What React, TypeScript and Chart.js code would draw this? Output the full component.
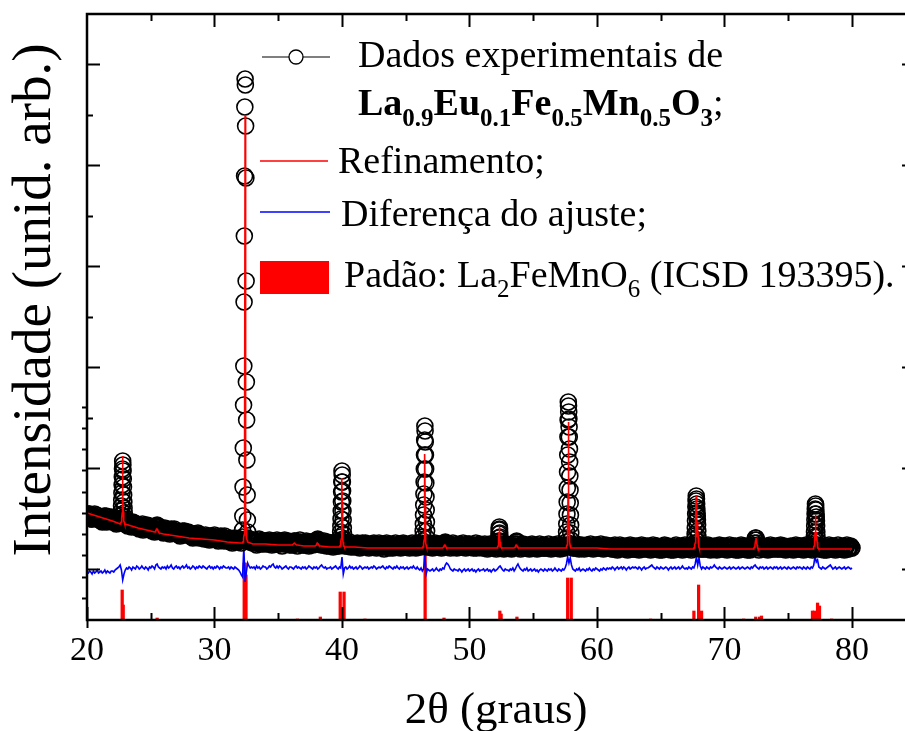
import React, { useEffect, useRef } from 'react';
import { Chart, registerables } from 'chart.js';

Chart.register(...registerables);

// ---------- axes ----------
const xMin = 20;
const xMax = 84.157;
const yMin = 0;
const yMax = 606;
const xMajorTicks = [20, 30, 40, 50, 60, 70, 80];
const xTickLabels = ['20', '30', '40', '50', '60', '70', '80'];
const xMinorTicks = [25, 35, 45, 55, 65, 75];
const yMajorTicks = [51, 152, 253, 354, 455, 556];
const yMinorTicks = [202, 303, 404, 505];
const yLowerTicks = [22, 43, 65, 86, 107, 128, 150, 171, 192, 213];
const xTitle = '2θ (graus)';
const yTitle = 'Intensidade (unid. arb.)';

// ---------- experimental data: background scan, 0.1° steps 20.00°..80.00° ----------
const scanStart = 20;
const scanStep = 0.1;
const obsBackground = [
  105,102,106,104,101,104,106,102,103,101,
  100,103,98,102,101,104,99,102,100,103,
  101,99,98,96,100,101,97,99,102,98,
  96,99,94,97,95,93,98,97,94,96,
  93,91,95,94,90,94,92,95,91,93,
  93,89,90,88,92,94,89,93,90,89,
  87,92,89,90,87,86,91,90,87,89,
  89,86,87,84,88,89,85,88,86,87,
  87,84,85,82,86,85,84,87,82,84,
  84,82,81,85,82,84,80,83,84,81,
  85,81,82,79,83,84,80,81,84,81,
  80,79,82,81,77,80,82,79,78,81,
  81,77,79,78,80,76,79,81,78,80,
  77,80,79,75,78,81,77,79,76,78,
  79,76,78,80,77,75,79,78,76,80,
  76,79,77,74,78,80,76,77,79,75,
  78,75,76,79,77,74,78,80,76,77,
  75,77,79,76,74,77,78,75,77,79,
  77,74,76,78,75,77,79,76,74,77,
  74,77,75,73,76,78,74,75,77,74,
  76,73,75,77,74,76,78,73,75,76,
  73,76,77,74,72,75,77,74,76,73,
  75,72,74,76,73,77,74,72,75,77,
  74,76,73,71,75,77,74,72,76,74,
  72,75,77,74,73,76,72,75,77,73,
  76,73,74,72,76,77,73,75,72,74,
  73,75,77,74,72,75,76,73,74,76,
  75,72,74,77,75,73,76,74,72,75,
  74,77,73,75,76,72,74,77,73,75,
  72,75,76,73,74,77,75,72,74,76,
  76,73,74,72,75,77,73,74,76,73,
  72,75,76,73,71,74,76,73,75,72,
  74,71,73,75,72,75,74,71,73,76,
  73,75,72,71,74,76,72,74,75,73,
  71,74,76,73,72,75,73,71,74,76,
  75,72,73,71,74,76,72,73,75,72,
  72,74,76,73,71,74,75,72,74,76,
  74,71,73,75,72,74,76,73,72,75,
  73,75,72,74,76,73,71,74,75,72,
  71,74,75,72,74,76,73,71,74,75,
  75,72,74,76,73,71,74,75,72,74,
  72,74,71,73,75,72,70,73,75,72,
  73,71,74,72,70,73,75,72,71,74,
  71,74,73,70,72,75,73,71,74,72,
  74,72,70,73,75,71,72,74,72,70,
  72,70,73,75,72,71,74,72,70,73,
  70,73,75,72,71,74,72,70,73,75,
  73,71,72,74,70,73,75,71,72,74,
  72,75,71,73,74,71,72,75,73,70,
  71,73,74,71,70,73,75,72,71,74,
  74,72,70,73,75,72,71,74,72,70,
  72,70,73,75,71,72,74,71,70,73,
  70,73,75,72,71,74,72,70,73,74,
  73,71,72,74,70,73,75,72,71,74,
  72,74,71,73,75,71,72,74,70,73,
  71,73,74,71,70,73,75,72,71,74,
  74,72,70,73,75,72,71,74,72,70,
  72,70,73,75,72,71,74,72,70,73,
  70,73,75,72,71,74,72,70,73,75,
  73,71,72,74,70,73,75,71,72,74,
  72,
];
// interleaved readings at 20.05°..79.95°
const midScanStart = 20.05;
const obsBackgroundMid = [
  103,106,104,101,105,103,102,105,101,103,
  102,99,101,104,100,98,103,101,99,101,
  98,101,99,97,99,98,100,97,100,97,
  97,95,98,96,94,97,95,96,93,95,
  94,92,93,96,92,91,94,93,92,94,
  91,92,89,91,90,93,91,90,91,88,
  90,88,91,88,89,90,88,89,91,88,
  87,88,85,87,86,87,89,86,85,88,
  85,86,83,84,86,83,85,86,84,83,
  83,84,82,83,81,83,82,84,81,83,
  82,83,80,82,81,82,83,79,82,80,
  81,80,78,80,79,81,80,79,81,79,
  79,80,78,77,79,78,80,79,78,79,
  78,79,77,78,80,76,78,79,77,79,
  77,78,79,76,78,77,79,76,78,77,
  78,76,78,77,79,76,78,77,76,78,
  76,77,79,76,78,77,76,78,77,75,
  77,76,78,75,77,78,76,77,76,78,
  75,77,76,78,76,75,77,76,78,75,
  76,75,77,76,74,77,76,74,76,75,
  74,76,74,75,77,74,76,75,74,76,
  75,74,76,73,75,76,74,75,77,74,
  74,75,73,75,74,76,73,75,74,73,
  75,73,74,76,73,74,75,73,75,74,
  73,74,75,73,75,74,73,76,74,73,
  74,75,73,74,73,75,74,73,75,74,
  75,73,74,75,74,73,75,74,73,75,
  73,74,76,73,74,75,73,74,75,73,
  74,75,73,74,76,74,73,75,74,73,
  75,73,74,75,73,74,75,73,74,75,
  73,74,75,73,74,72,74,75,73,74,
  74,73,72,74,73,75,72,74,73,74,
  73,74,72,73,74,72,73,74,72,73,
  72,73,74,72,73,74,73,72,74,73,
  73,72,74,73,72,74,72,73,74,72,
  74,73,72,74,73,72,74,73,72,73,
  73,74,72,73,74,72,73,74,73,72,
  72,73,74,72,73,74,72,73,74,73,
  74,72,73,74,72,73,74,72,73,74,
  73,74,72,73,74,72,73,74,72,73,
  72,73,74,72,73,74,72,73,74,72,
  73,72,71,73,72,74,71,72,73,72,
  72,73,71,72,74,72,71,73,72,71,
  73,71,72,74,71,72,73,72,71,73,
  72,73,71,72,73,71,74,72,73,71,
  71,72,74,71,72,73,72,71,73,72,
  73,72,71,73,72,71,73,74,72,71,
  72,71,73,72,74,72,71,73,72,73,
  71,73,72,71,73,72,74,71,72,73,
  72,71,73,72,71,74,72,73,71,72,
  73,72,71,73,72,71,73,72,74,71,
  72,73,71,72,74,72,71,73,72,71,
  71,72,73,71,72,73,71,74,72,73,
  72,73,71,72,71,73,72,71,73,72,
  73,71,72,74,72,71,73,72,71,73,
  72,73,71,72,73,72,71,74,72,71,
  71,72,73,71,72,74,72,71,73,72,
  73,71,72,73,71,72,73,72,71,73,
  72,73,71,72,74,71,72,73,72,71,
  71,72,73,71,72,73,71,72,73,72,
];

// experimental data: finely sampled Bragg peaks
const obsPeak228 = [98,100,102,105,109,114,120,127,135,143,151,159,155,149,141,133,125,118,112,107,103,100,98];
const obsPeak255 = [90,91,93,94,95,94,92,91,90];
const obsPeak324 = [83,90,104,133,172,215,254,318,384,444,513,541,535,494,442,339,238,200,160,125,100,88,82];
const obsPeak381 = [76,78,80,81,80,78,76];
const obsPeak400 = [76,78,80,83,88,94,101,109,118,128,138,149,145,138,129,119,109,100,92,86,81,78,76];
const obsPeak465 = [74,76,79,83,89,96,105,115,126,138,151,165,180,194,189,178,165,151,137,123,110,98,89,82,77,75];
const obsPeak481 = [74,76,77,78,77,76,74];
const obsPeak523 = [74,76,79,82,86,90,93,91,87,83,79,76,73];
const obsPeak537 = [74,76,78,79,78,76,74];
const obsPeak577 = [73,75,78,82,88,96,106,118,132,148,165,183,200,218,214,208,201,193,183,171,158,144,130,117,105,95,87,80,76,74];
const obsPeak678 = [72,74,77,81,86,92,99,106,113,119,124,121,116,111,107,104,100,95,89,83,78,75,72];
const obsPeak725 = [72,74,77,80,82,82,80,77,75,73,72];
const obsPeak771 = [72,74,76,79,83,88,94,100,106,111,116,114,110,106,103,99,94,88,83,79,75,73,72];
const obsPeakStarts = [22.635, 25.34, 32.18, 37.98, 39.835, 46.305, 47.98, 52.25, 53.58, 57.555, 67.635, 72.27, 76.985];
const obsPeakSteps = [0.015, 0.04, 0.02, 0.04, 0.015, 0.015, 0.04, 0.015, 0.04, 0.015, 0.015, 0.04, 0.015];
const obsPeakProfiles = [obsPeak228, obsPeak255, obsPeak324, obsPeak381, obsPeak400, obsPeak465, obsPeak481, obsPeak523, obsPeak537, obsPeak577, obsPeak678, obsPeak725, obsPeak771];

// ---------- refinement (calculated) ----------
const calcBgStart = 20;
const calcBgStep = 1;
const calcBackground = [
  107,103,99,95,92,89,86,84,82,81,
  80,78,77,76,76,75,75,74,74,73,
  73,73,72,72,72,72,72,72,72,72,
  72,72,72,72,72,72,72,72,72,72,
  72,71,71,71,71,71,71,71,71,71,
  71,71,71,71,71,71,71,71,71,71,
  71,
];
const calcPeak228 = [96,96,97,97,98,99,100,102,107,124,164,125,108,102,100,99,98,97,97,96,96];
const calcPeak255 = [88,88,89,90,91,91,90,89,88,87,87];
const calcPeak324 = [77,78,78,79,80,82,85,90,105,180,505,420,190,110,92,86,83,81,80,79,78];
const calcPeak363 = [75,75,76,76,77,77,76,76,75,75,75];
const calcPeak381 = [74,74,75,76,77,77,76,75,74,74,74];
const calcPeak400 = [73,73,74,74,75,76,78,81,88,110,142,118,92,82,78,76,75,74,74,73,73];
const calcPeak465 = [72,72,73,73,74,75,77,80,88,115,166,120,90,81,77,75,74,73,73,72,72];
const calcPeak481 = [72,72,73,74,75,75,74,73,72,72,72];
const calcPeak523 = [72,72,72,73,73,74,75,77,81,88,93,89,82,78,75,74,73,73,72,72,72];
const calcPeak537 = [72,72,73,74,75,75,74,73,72,72,72];
const calcPeak577 = [72,72,73,73,74,75,77,80,90,125,198,150,110,95,90,84,78,75,74,73,72];
const calcPeak678 = [71,71,72,72,73,74,75,77,80,88,105,125,108,92,86,88,95,98,90,82,77,75,73,72,71];
const calcPeak725 = [71,72,73,75,79,82,79,75,73,72,71];
const calcPeak771 = [71,71,72,72,73,74,75,77,80,88,105,95,84,80,83,88,84,78,75,73,72,72,71,71,71];
const calcPeakStarts = [22.6, 25.3, 32.2, 36.1, 37.9, 39.8, 46.3, 47.88, 52.14, 53.5, 57.55, 67.56, 72.27, 76.93];
const calcPeakSteps = [0.02, 0.04, 0.02, 0.04, 0.04, 0.02, 0.02, 0.04, 0.02, 0.04, 0.02, 0.02, 0.04, 0.02];
const calcPeakProfiles = [calcPeak228, calcPeak255, calcPeak324, calcPeak363, calcPeak381, calcPeak400, calcPeak465, calcPeak481, calcPeak523, calcPeak537, calcPeak577, calcPeak678, calcPeak725, calcPeak771];

// ---------- difference curve (0.1° steps, 20°..80°) ----------
const diffCurve = [
  48,47,49,48,46,49,47,48,50,47,
  48,49,47,48,50,47,49,48,47,49,
  49,48,50,51,52,53,55,50,40,46,
  50,52,51,53,52,50,53,52,51,54,
  53,51,52,54,52,51,53,52,50,53,
  52,54,53,51,55,56,53,52,51,53,
  52,53,51,54,52,53,55,52,51,53,
  54,52,53,51,53,54,52,53,55,52,
  53,51,52,54,53,51,53,52,54,53,
  52,54,53,52,51,53,54,52,53,51,
  53,52,54,53,51,53,52,54,53,52,
  52,53,51,53,52,51,53,52,51,50,
  48,45,43,73,38,48,57,54,52,53,
  52,53,51,54,52,53,51,52,54,53,
  53,51,52,54,53,55,56,53,52,54,
  52,54,53,51,52,53,54,52,51,53,
  53,52,51,53,54,52,53,52,51,53,
  52,53,51,52,54,53,52,51,53,52,
  53,51,52,54,55,53,52,53,51,52,
  52,53,51,52,53,54,52,51,53,52,
  63,46,52,53,51,52,54,52,53,51,
  52,53,51,52,54,53,51,52,53,52,
  53,51,52,53,52,54,53,51,52,53,
  52,53,54,52,51,53,52,54,53,52,
  51,53,52,54,52,51,53,52,53,51,
  52,53,51,52,53,52,54,52,51,53,
  51,50,52,49,51,65,46,51,50,49,
  50,51,49,50,52,50,49,51,50,52,
  51,55,57,56,54,51,50,49,51,50,
  50,49,51,50,48,50,51,49,50,51,
  49,50,51,49,50,48,50,51,49,50,
  50,51,49,50,51,49,50,48,50,51,
  49,50,51,53,54,52,50,49,51,50,
  50,49,51,50,52,49,51,54,56,53,
  51,50,49,51,50,52,49,50,51,49,
  50,51,49,50,48,50,51,50,49,51,
  50,49,51,50,51,49,50,52,50,49,
  51,50,49,51,50,52,56,63,57,62,
  55,51,50,49,51,50,52,49,50,51,
  50,49,51,50,52,50,49,51,50,52,
  51,50,49,51,50,52,51,50,52,51,
  52,51,53,52,50,52,53,51,52,53,
  51,53,52,50,52,53,51,52,53,52,
  53,52,51,53,52,50,52,53,51,52,
  52,53,54,55,53,52,51,53,52,51,
  53,52,51,52,53,52,50,52,53,51,
  52,53,51,52,53,51,52,54,52,51,
  52,51,53,52,51,53,52,56,63,55,
  62,54,51,53,52,51,53,52,51,53,
  52,53,55,53,52,51,53,52,51,52,
  53,52,51,52,53,51,52,53,52,51,
  52,53,51,52,53,52,51,52,53,52,
  51,53,52,54,55,53,52,51,53,52,
  53,51,52,53,51,52,53,52,51,53,
  52,53,51,52,53,51,52,53,52,51,
  53,52,51,52,53,52,51,53,52,53,
  52,51,53,52,51,53,52,51,53,52,
  55,64,58,60,53,52,51,53,52,51,
  52,53,54,55,53,51,52,53,51,52,
  53,52,51,52,53,51,52,53,52,51,
  52,
];

// ---------- reference pattern La2FeMnO6 (ICSD 193395) ----------
const refAngles = [22.76, 22.84, 25.5, 32.33, 32.4, 32.47, 36.5, 38.3, 39.86, 40.16, 41.8, 46.52, 48.0, 52.38, 52.48, 53.72, 57.7, 57.98, 64.2, 67.6, 67.97, 68.2, 71.5, 72.45, 72.75, 72.9, 76.9, 77.05, 77.3, 77.45, 78.4];
const refHeights = [30, 15, 2, 57, 57, 45, 1, 3, 28, 28, 1, 66, 2, 9, 6, 3, 42, 42, 1, 9, 35, 9, 1, 3, 3, 4, 9, 9, 17, 14, 1];

// ---------- legend text ----------
const legendObsLine1 = 'Dados experimentais de';
const legendFormula = [
  { t: 'La', sub: false }, { t: '0.9', sub: true },
  { t: 'Eu', sub: false }, { t: '0.1', sub: true },
  { t: 'Fe', sub: false }, { t: '0.5', sub: true },
  { t: 'Mn', sub: false }, { t: '0.5', sub: true },
  { t: 'O', sub: false }, { t: '3', sub: true },
];
const legendCalc = 'Refinamento;';
const legendDiff = 'Diferença do ajuste;';
const legendRef = [
  { t: 'Padão: La', sub: false }, { t: '2', sub: true },
  { t: 'FeMnO', sub: false }, { t: '6', sub: true },
  { t: ' (ICSD 193395).', sub: false },
];

const SERIF = '"Liberation Serif", "Times New Roman", Times, serif';

type Pt = { x: number; y: number };

function gridPoints(start: number, step: number, values: number[]): Pt[] {
  return values.map((v, i) => ({ x: Math.round((start + i * step) * 1e6) / 1e6, y: v }));
}

function buildSeries(bgPts: Pt[], starts: number[], steps: number[], profiles: number[][]): Pt[] {
  const pts: Pt[] = bgPts.filter((p) => !starts.some((s, k) => p.x >= s - 1e-6 && p.x <= s + steps[k] * (profiles[k].length - 1) + 1e-6));
  profiles.forEach((vals, k) => vals.forEach((v, j) => pts.push({ x: starts[k] + j * steps[k], y: v })));
  pts.sort((a, b) => a.x - b.x);
  return pts;
}

const decorPlugin = {
  id: 'decor',
  afterDraw(chart: any) {
    const { ctx, chartArea: a, scales } = chart;
    const xs = scales.x;
    const ys = scales.y;
    ctx.save();
    ctx.strokeStyle = '#000';
    ctx.fillStyle = '#000';
    ctx.lineCap = 'butt';

    // frame
    ctx.lineWidth = 2.5;
    ctx.beginPath();
    ctx.moveTo(a.right + 2, a.top);
    ctx.lineTo(a.left, a.top);
    ctx.lineTo(a.left, a.bottom);
    ctx.lineTo(a.right + 2, a.bottom);
    ctx.stroke();

    ctx.lineWidth = 2;
    ctx.beginPath();
    xMajorTicks.forEach((v) => {
      const px = Math.round(xs.getPixelForValue(v)) + 0.5;
      ctx.moveTo(px, a.bottom - 13); ctx.lineTo(px, a.bottom + 8);
      if (v > xMin) { ctx.moveTo(px, a.top); ctx.lineTo(px, a.top + 13); }
    });
    xMinorTicks.forEach((v) => {
      const px = Math.round(xs.getPixelForValue(v)) + 0.5;
      ctx.moveTo(px, a.bottom - 7); ctx.lineTo(px, a.bottom);
      ctx.moveTo(px, a.top); ctx.lineTo(px, a.top + 7);
    });
    yMajorTicks.forEach((v) => {
      const py = Math.round(ys.getPixelForValue(v)) + 0.5;
      ctx.moveTo(a.left, py); ctx.lineTo(a.left + 13, py);
      ctx.moveTo(a.right - 3, py); ctx.lineTo(a.right, py);
    });
    yMinorTicks.forEach((v) => {
      const py = Math.round(ys.getPixelForValue(v)) + 0.5;
      ctx.moveTo(a.left, py); ctx.lineTo(a.left + 6, py);
    });
    yLowerTicks.forEach((v) => {
      const py = Math.round(ys.getPixelForValue(v)) + 0.5;
      ctx.moveTo(a.left - 5, py); ctx.lineTo(a.left, py);
    });
    ctx.stroke();

    // tick labels
    ctx.font = `34px ${SERIF}`;
    ctx.textAlign = 'center';
    ctx.textBaseline = 'alphabetic';
    xMajorTicks.forEach((v, i) => {
      ctx.fillText(xTickLabels[i], xs.getPixelForValue(v), 660);
    });

    // axis titles
    ctx.font = `45px ${SERIF}`;
    ctx.fillText(xTitle, (a.left + a.right) / 2, 723);
    ctx.save();
    ctx.translate(50, 300);
    ctx.rotate(-Math.PI / 2);
    ctx.font = `55px ${SERIF}`;
    ctx.fillText(yTitle, 0, 0);
    ctx.restore();

    // legend
    ctx.textAlign = 'left';
    // row 1: experimental
    ctx.strokeStyle = '#555';
    ctx.lineWidth = 1.5;
    ctx.beginPath(); ctx.moveTo(262, 57); ctx.lineTo(330, 57); ctx.stroke();
    ctx.fillStyle = '#fff';
    ctx.strokeStyle = '#000';
    ctx.lineWidth = 1.3;
    ctx.beginPath(); ctx.arc(296, 57, 7, 0, Math.PI * 2); ctx.fill(); ctx.stroke();
    ctx.fillStyle = '#000';
    ctx.font = `38px ${SERIF}`;
    ctx.fillText(legendObsLine1, 358, 67);
    // row 2: formula
    let cx = 358;
    legendFormula.forEach((r) => {
      ctx.font = `bold ${r.sub ? 25 : 38}px ${SERIF}`;
      ctx.fillText(r.t, cx, r.sub ? 126 : 115);
      cx += ctx.measureText(r.t).width;
    });
    ctx.font = `38px ${SERIF}`;
    ctx.fillText(';', cx, 115);
    // row 3: refinement
    ctx.strokeStyle = '#ff0000';
    ctx.lineWidth = 1.5;
    ctx.beginPath(); ctx.moveTo(260, 161); ctx.lineTo(328, 161); ctx.stroke();
    ctx.fillText(legendCalc, 338, 173);
    // row 4: difference
    ctx.strokeStyle = '#0000ff';
    ctx.beginPath(); ctx.moveTo(260, 212); ctx.lineTo(330, 212); ctx.stroke();
    ctx.fillText(legendDiff, 341, 226);
    // row 5: reference
    ctx.fillStyle = '#ff0000';
    ctx.fillRect(260, 261, 69, 33);
    ctx.fillStyle = '#000';
    cx = 344;
    legendRef.forEach((r) => {
      ctx.font = `${r.sub ? 25 : 38}px ${SERIF}`;
      ctx.fillText(r.t, cx, r.sub ? 297 : 287);
      cx += ctx.measureText(r.t).width;
    });
    ctx.restore();
  },
};

export default function App() {
  const ref = useRef<HTMLCanvasElement>(null);
  useEffect(() => {
    const obsBg = [...gridPoints(scanStart, scanStep, obsBackground), ...gridPoints(midScanStart, scanStep, obsBackgroundMid)];
    const obsPts = buildSeries(obsBg, obsPeakStarts, obsPeakSteps, obsPeakProfiles);
    const calcPts = buildSeries(gridPoints(calcBgStart, calcBgStep, calcBackground), calcPeakStarts, calcPeakSteps, calcPeakProfiles);
    const diffPts = gridPoints(scanStart, scanStep, diffCurve);
    const refPts = refAngles.map((x, i) => ({ x, y: refHeights[i] }));

    const chart = new Chart(ref.current as HTMLCanvasElement, {
      type: 'line',
      data: {
        datasets: [
          {
            type: 'line',
            label: 'Refinamento',
            data: calcPts,
            borderColor: '#ff0000',
            borderWidth: 1.6,
            pointRadius: 0,
            fill: false,
            tension: 0,
            order: 0,
          },
          {
            type: 'line',
            label: 'Dados experimentais',
            data: obsPts,
            showLine: false,
            pointRadius: 8,
            pointBorderWidth: 1.6,
            pointBorderColor: '#000',
            pointBackgroundColor: 'rgba(0,0,0,0)',
            order: 1,
          },
          {
            type: 'line',
            label: 'Diferença',
            data: diffPts,
            borderColor: '#0000ff',
            borderWidth: 1.6,
            pointRadius: 0,
            fill: false,
            tension: 0,
            order: 2,
          },
          {
            type: 'bar',
            label: 'Padrão',
            data: refPts,
            backgroundColor: '#ff0000',
            borderWidth: 0,
            barThickness: 2.6,
            grouped: false,
            order: 3,
          } as any,
        ],
      },
      options: {
        responsive: false,
        animation: false,
        devicePixelRatio: 1,
        parsing: false as any,
        layout: { autoPadding: false, padding: { left: 87, top: 14, right: 0, bottom: 111 } },
        plugins: { legend: { display: false }, tooltip: { enabled: false } },
        scales: {
          x: { type: 'linear', min: xMin, max: xMax, display: false, offset: false },
          y: { type: 'linear', min: yMin, max: yMax, display: false },
        },
      },
      plugins: [decorPlugin],
    });
    return () => chart.destroy();
  }, []);
  return (
    <div style={{ position: 'fixed', left: 0, top: 0, width: 905, height: 731, background: '#fff' }}>
      <canvas ref={ref} width={905} height={731} style={{ display: 'block', width: 905, height: 731 }} />
    </div>
  );
}
